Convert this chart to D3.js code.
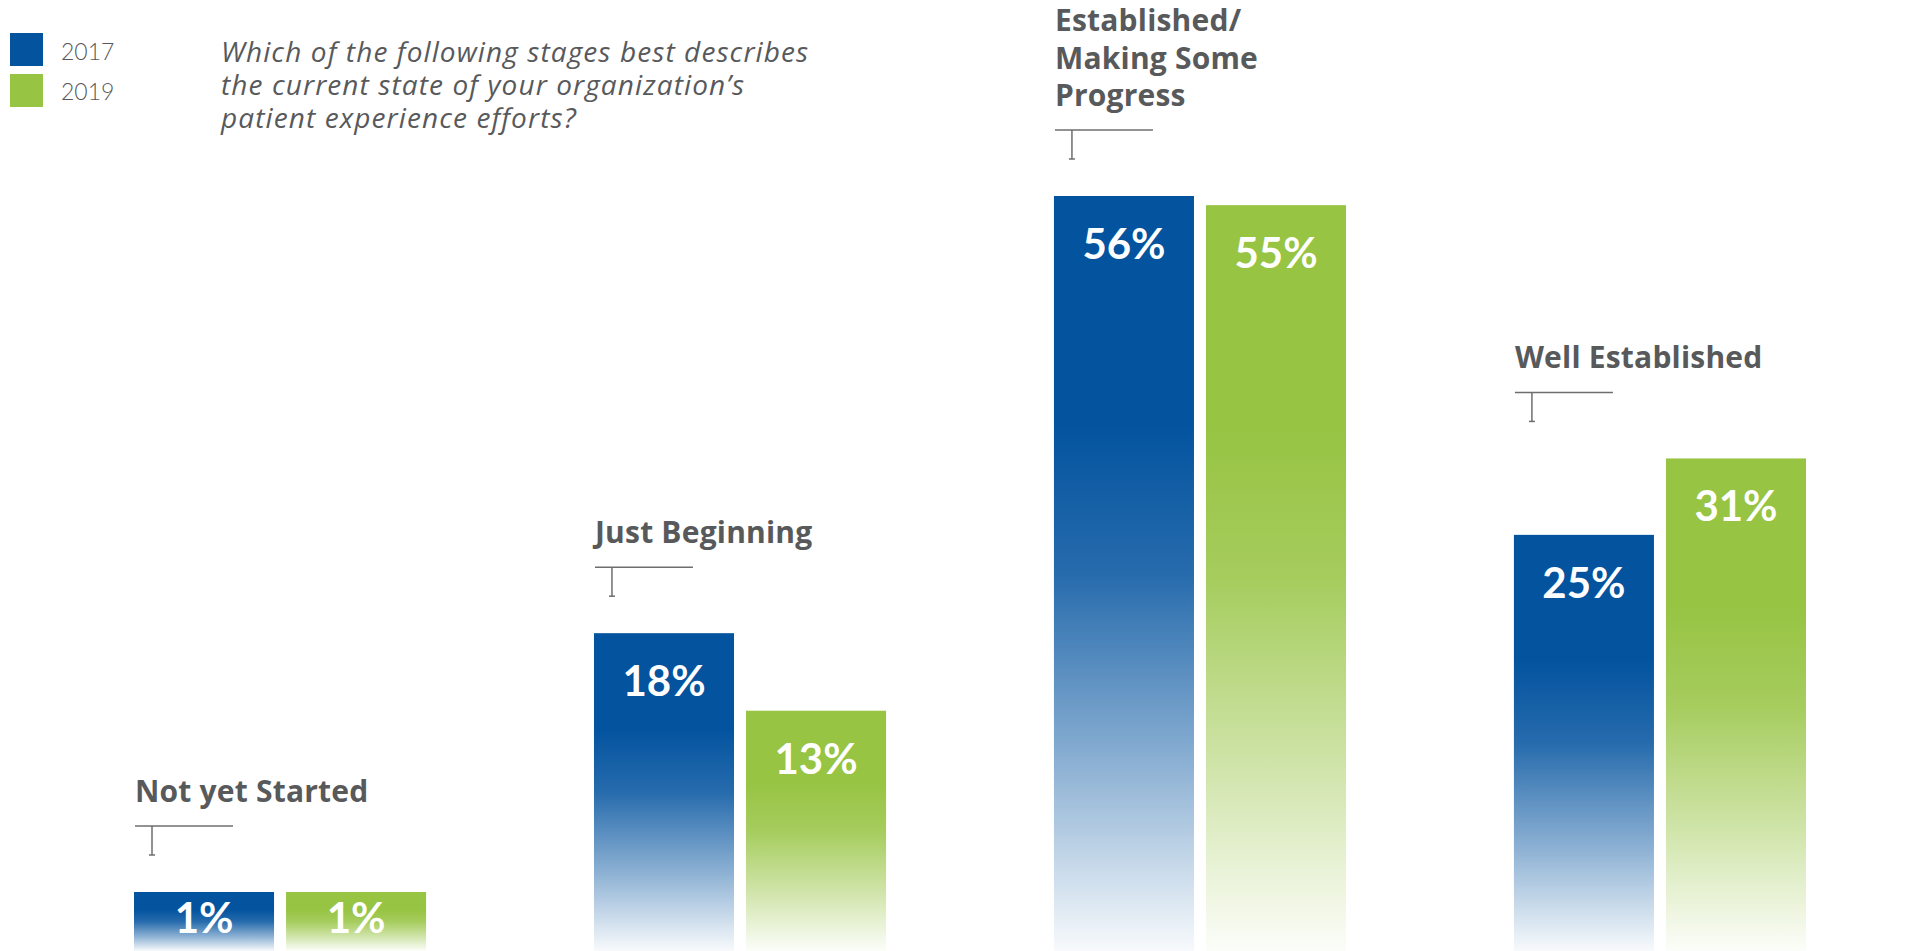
<!DOCTYPE html>
<html>
<head>
<meta charset="utf-8">
<script src="https://cdn.jsdelivr.net/npm/d3@7"></script>
<style>
  html, body { margin: 0; padding: 0; background: #fff; }
  svg { display: block; }
</style>
</head>
<body>
<div class="container"></div>
<script>
// DATA
const categories = ["Not yet Started", "Just Beginning", "Established/ Making Some Progress", "Well Established"];
// line breaks used for the category labels
const categoryLines = [["Not yet Started"], ["Just Beginning"], ["Established/", "Making Some", "Progress"], ["Well Established"]];
const years = ["2017", "2019"];
const values2017 = [1, 18, 56, 25];
const values2019 = [1, 13, 55, 31];
const questionLines = [
  "Which of the following stages best describes",
  "the current state of your organization’s",
  "patient experience efforts?"
];

// SETUP
const width = 1921;
const height = 951;
const baseline = 951;
const colors = { "2017": "#03539f", "2019": "#97c443" };
const textGray = "#58595b";
const sans = "'Open Sans', Lato, sans-serif";

const svg = d3.select(".container")
  .append("svg")
  .attr("width", width)
  .attr("height", height)
  .attr("font-family", sans);

// gradients: solid at the top, fading to white at the bottom
const defs = svg.append("defs");
years.forEach(yr => {
  const g = defs.append("linearGradient")
    .attr("id", "grad" + yr)
    .attr("x1", 0).attr("y1", 0).attr("x2", 0).attr("y2", 1);
  [[0, 1], [0.3, 1], [0.5, 0.86], [0.75, 0.46], [0.9, 0.2], [1, 0.03]].forEach(s => {
    g.append("stop")
      .attr("offset", s[0])
      .attr("stop-color", colors[yr])
      .attr("stop-opacity", s[1]);
  });
});

// scales
const x0 = d3.scaleBand()
  .domain(categories)
  .range([134, 1806])
  .paddingInner(0.365)
  .paddingOuter(0);

const x1 = d3.scaleBand()
  .domain(years)
  .range([0, x0.bandwidth()])
  .paddingInner(0.079);

// the infographic does not scale bars linearly; a symlog scale follows it closely
const yScale = d3.scaleSymlog()
  .constant(42)
  .domain([0, 56])
  .range([baseline, baseline - 755]);

const minBar = 59;
const barTop = v => Math.min(yScale(v), baseline - minBar);

const data = categories.map((c, i) => ({
  cat: c,
  lines: categoryLines[i],
  bars: [
    { year: "2017", value: values2017[i] },
    { year: "2019", value: values2019[i] }
  ]
}));

// LEGEND
const legend = svg.append("g").attr("class", "legend");
years.forEach((yr, i) => {
  legend.append("rect")
    .attr("x", 10)
    .attr("y", 33 + i * 41)
    .attr("width", 33)
    .attr("height", 33)
    .attr("fill", colors[yr]);
  legend.append("text")
    .attr("x", 61)
    .attr("y", 60 + i * 40)
    .attr("font-family", "Lato, sans-serif")
    .attr("font-size", 23)
    .attr("font-weight", 300)
    .attr("fill", textGray)
    .text(yr);
});

// QUESTION
const question = svg.append("g").attr("class", "question");
questionLines.forEach((line, i) => {
  question.append("text")
    .attr("x", 221)
    .attr("y", 62 + i * 33)
    .attr("font-size", 28)
    .attr("font-style", "italic")
    .attr("font-weight", 400)
    .attr("letter-spacing", 1.1)
    .attr("fill", textGray)
    .text(line);
});

// GROUPS
const groups = svg.selectAll("g.group")
  .data(data)
  .join("g")
  .attr("class", "group")
  .attr("transform", d => `translate(${x0(d.cat)},0)`);

groups.selectAll("rect.bar")
  .data(d => d.bars)
  .join("rect")
  .attr("class", "bar")
  .attr("x", d => x1(d.year))
  .attr("width", x1.bandwidth())
  .attr("y", d => barTop(d.value))
  .attr("height", d => baseline - barTop(d.value))
  .attr("fill", d => `url(#grad${d.year})`);

groups.selectAll("text.value")
  .data(d => d.bars)
  .join("text")
  .attr("class", "value")
  .attr("x", d => x1(d.year) + x1.bandwidth() / 2)
  .attr("y", d => {
    const h = baseline - barTop(d.value);
    return barTop(d.value) + Math.min(63, h * 0.7);
  })
  .attr("text-anchor", "middle")
  .attr("font-family", "Lato, sans-serif")
  .attr("font-size", 42)
  .attr("font-weight", 700)
  .attr("fill", "#fff")
  .text(d => d.value + "%");

// category label + bracket, placed above the taller bar
groups.each(function(d) {
  const g = d3.select(this);
  const top = d3.min(d.bars, b => barTop(b.value));
  const labelBase = top - 90;
  const lineH = 37.5;
  const n = d.lines.length;

  g.append("text")
    .attr("x", 1)
    .attr("y", labelBase - (n - 1) * lineH)
    .attr("font-size", 30)
    .attr("font-weight", 700)
    .attr("letter-spacing", 0.2)
    .attr("fill", textGray)
    .selectAll("tspan")
    .data(d.lines)
    .join("tspan")
    .attr("x", 1)
    .attr("dy", (t, i) => i === 0 ? 0 : lineH)
    .text(t => t);

  const ly = labelBase + 24;
  g.append("line")
    .attr("x1", 1).attr("x2", 99)
    .attr("y1", ly).attr("y2", ly)
    .attr("stroke", "#6d6e70").attr("stroke-width", 1.5);
  g.append("line")
    .attr("x1", 18).attr("x2", 18)
    .attr("y1", ly).attr("y2", ly + 29)
    .attr("stroke", "#6d6e70").attr("stroke-width", 1.5);
  g.append("line")
    .attr("x1", 15).attr("x2", 21)
    .attr("y1", ly + 29).attr("y2", ly + 29)
    .attr("stroke", "#6d6e70").attr("stroke-width", 1.5);
});
</script>
</body>
</html>
